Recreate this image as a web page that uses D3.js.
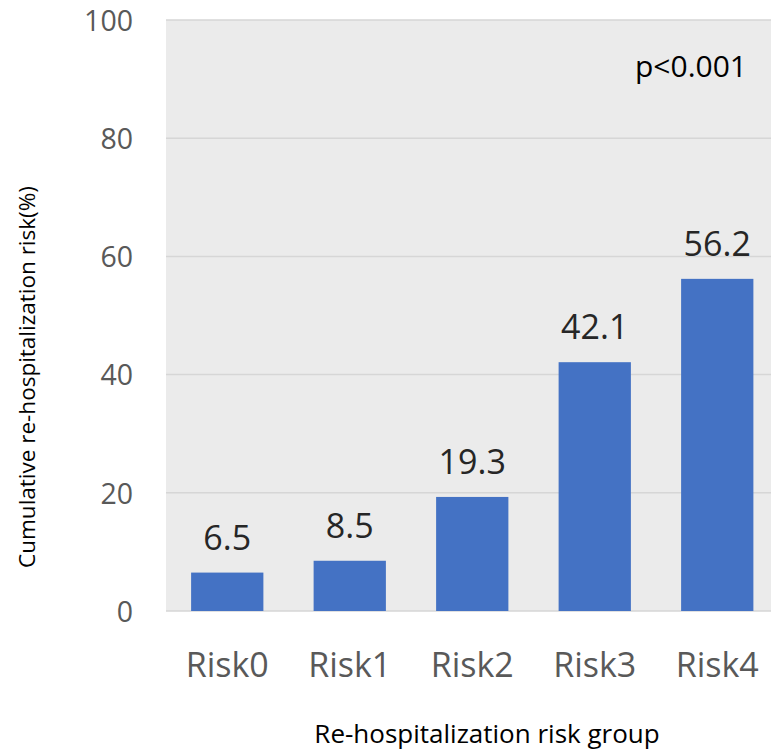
<!DOCTYPE html>
<html>
<head>
<meta charset="utf-8">
<script src="https://cdn.jsdelivr.net/npm/d3@7"></script>
<style>
  body { margin: 0; background: #fff; }
  text { font-family: "Open Sans", "Noto Sans", sans-serif; }
</style>
</head>
<body>
<div id="chart"></div>
<script>
const categories = ['Risk0', 'Risk1', 'Risk2', 'Risk3', 'Risk4'];
const riskValues = [6.5, 8.5, 19.3, 42.1, 56.2];
const yTicks = [0, 20, 40, 60, 80, 100];

const width = 771, height = 755;
const plot = {left: 166, right: 778.5, top: 20, bottom: 611};

const svg = d3.select('#chart').append('svg')
  .attr('width', width)
  .attr('height', height);

const x = d3.scaleBand()
  .domain(categories)
  .range([plot.left, plot.right])
  .paddingInner(0.41)
  .paddingOuter(0.205);

const y = d3.scaleLinear()
  .domain([0, 100])
  .range([plot.bottom, plot.top]);

// plot background
svg.append('rect')
  .attr('x', plot.left)
  .attr('y', plot.top)
  .attr('width', width - plot.left)
  .attr('height', plot.bottom - plot.top)
  .attr('fill', '#ebebeb');

// gridlines
svg.append('g')
  .selectAll('line')
  .data(yTicks)
  .join('line')
  .attr('x1', plot.left)
  .attr('x2', width)
  .attr('y1', d => y(d))
  .attr('y2', d => y(d))
  .attr('stroke', '#d6d6d6')
  .attr('stroke-width', 1.5);

// y tick labels
svg.append('g')
  .selectAll('text')
  .data(yTicks)
  .join('text')
  .attr('x', 133)
  .attr('y', d => y(d))
  .attr('dy', '0.38em')
  .attr('text-anchor', 'end')
  .attr('font-size', 28.5)
  .attr('fill', '#595959')
  .text(d => d);

// bars
svg.append('g')
  .selectAll('rect')
  .data(riskValues)
  .join('rect')
  .attr('x', (d, i) => x(categories[i]))
  .attr('y', d => y(d))
  .attr('width', x.bandwidth())
  .attr('height', d => y(0) - y(d))
  .attr('fill', '#4472c4');

// value labels
svg.append('g')
  .selectAll('text')
  .data(riskValues)
  .join('text')
  .attr('x', (d, i) => x(categories[i]) + x.bandwidth() / 2)
  .attr('y', d => y(d) - 23)
  .attr('text-anchor', 'middle')
  .attr('font-size', 34)
  .attr('fill', '#262626')
  .text(d => d.toFixed(1));

// category labels
svg.append('g')
  .selectAll('text')
  .data(categories)
  .join('text')
  .attr('x', d => x(d) + x.bandwidth() / 2)
  .attr('y', 677)
  .attr('text-anchor', 'middle')
  .attr('font-size', 34)
  .attr('fill', '#595959')
  .text(d => d);

// p value
svg.append('text')
  .attr('x', 747)
  .attr('y', 77)
  .attr('text-anchor', 'end')
  .attr('font-size', 30)
  .attr('fill', '#000')
  .text('p<0.001');

// axis titles
svg.append('text')
  .attr('x', 487)
  .attr('y', 743)
  .attr('text-anchor', 'middle')
  .attr('font-size', 26)
  .attr('fill', '#000')
  .text('Re-hospitalization risk group');

svg.append('text')
  .attr('transform', 'translate(35,377) rotate(-90)')
  .attr('text-anchor', 'middle')
  .attr('font-size', 22.5)
  .attr('fill', '#000')
  .text('Cumulative re-hospitalization risk(%)');
</script>
</body>
</html>
